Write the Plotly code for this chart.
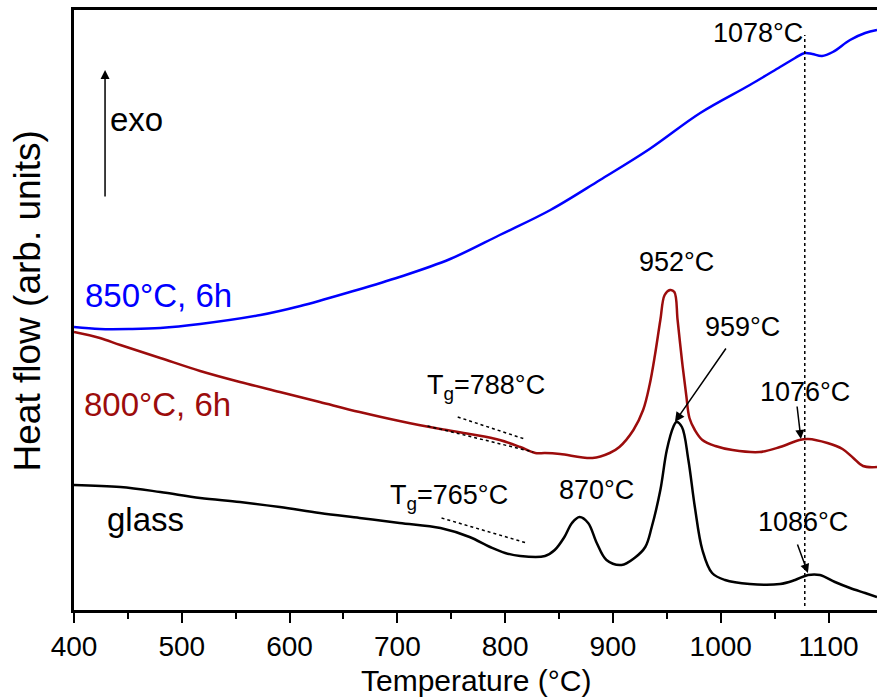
import plotly.graph_objects as go

# ---------------- data ----------------
# 850°C, 6h (blue)
t_850 = [400, 424, 452, 480, 517, 573, 610, 656, 702, 749, 795, 842, 888, 934,
         981, 1027, 1055, 1069, 1078, 1085, 1094, 1104, 1120, 1134, 1145]
hf_850 = [2.83, 2.81, 2.81, 2.82, 2.86, 2.95, 3.04, 3.18, 3.33, 3.51, 3.75, 4.00,
          4.30, 4.61, 4.97, 5.25, 5.43, 5.52, 5.57, 5.56, 5.54, 5.58, 5.70, 5.77, 5.80]

# 800°C, 6h (dark red)
t_800 = [400, 424, 443, 480, 517, 554, 591, 628, 665, 702, 740, 767, 795, 814, 828, 837,
         851, 881, 897, 906, 919, 928, 934, 939, 944, 948, 953, 957, 960, 964, 968, 971,
         976, 983, 995, 1011, 1036, 1055, 1073, 1081, 1099, 1113, 1123, 1132, 1145]
hf_800 = [2.78, 2.72, 2.65, 2.52, 2.39, 2.28, 2.18, 2.08, 1.98, 1.89, 1.81, 1.76, 1.70,
          1.63, 1.57, 1.57, 1.56, 1.52, 1.57, 1.63, 1.80, 2.00, 2.25, 2.55, 2.90, 3.15,
          3.20, 3.18, 2.90, 2.50, 2.15, 1.92, 1.80, 1.70, 1.64, 1.60, 1.58, 1.63, 1.70,
          1.71, 1.67, 1.61, 1.52, 1.44, 1.43]

# glass (black)
t_glass = [400, 443, 480, 517, 554, 591, 628, 665, 702, 740, 767, 786, 800, 814, 837, 846,
           855, 862, 869, 877, 885, 894, 908, 920, 930, 936, 944, 950, 956, 959, 964, 970,
           976, 983, 992, 1004, 1027, 1055, 1069, 1081, 1092, 1106, 1120, 1134, 1145]
hf_glass = [1.25, 1.23, 1.18, 1.12, 1.08, 1.03, 0.97, 0.92, 0.87, 0.82, 0.73, 0.63, 0.57,
            0.54, 0.54, 0.60, 0.73, 0.87, 0.93, 0.87, 0.67, 0.50, 0.45, 0.52, 0.63, 0.83,
            1.20, 1.60, 1.83, 1.88, 1.83, 1.50, 1.03, 0.60, 0.37, 0.30, 0.26, 0.26, 0.30,
            0.35, 0.35, 0.28, 0.22, 0.17, 0.13]

x_ticks = [400, 500, 600, 700, 800, 900, 1000, 1100]
x_tick_labels = ["400", "500", "600", "700", "800", "900", "1000", "1100"]

BLUE = "#0000ff"
RED = "#9c0c0c"
BLACK = "#000000"
FONT = "Liberation Sans, Arial, sans-serif"

fig = go.Figure()
for t, hf, c in [(t_850, hf_850, BLUE), (t_800, hf_800, RED), (t_glass, hf_glass, BLACK)]:
    fig.add_trace(go.Scatter(x=t, y=hf, mode="lines",
                             line=dict(color=c, width=2.5, shape="spline", smoothing=1.0),
                             showlegend=False, hoverinfo="skip"))

# dotted guide lines
dot = dict(color="black", width=1.5, dash="dot")
fig.add_shape(type="line", x0=1078, x1=1078, y0=0.04, y1=5.75, xref="x", yref="y", line=dot)
fig.add_shape(type="line", x0=756, y0=1.93, x1=818, y1=1.71, xref="x", yref="y", line=dot)
fig.add_shape(type="line", x0=728, y0=1.84, x1=826, y1=1.58, xref="x", yref="y", line=dot)
fig.add_shape(type="line", x0=741, y0=0.92, x1=820, y1=0.67, xref="x", yref="y", line=dot)

ann = []
def txt(x, y, s, size=27, color=BLACK, xanchor="center"):
    ann.append(dict(x=x, y=y, xref="x", yref="y", text=s, showarrow=False,
                    xanchor=xanchor, yanchor="middle",
                    font=dict(family=FONT, size=size, color=color)))

def arrow(x, y, ax, ay, head=2, size=1.2):
    ann.append(dict(x=x, y=y, ax=ax, ay=ay, xref="x", yref="y", axref="x", ayref="y",
                    text="", showarrow=True, arrowhead=head, arrowsize=size,
                    arrowwidth=1.5, arrowcolor="black"))

txt(1034.5, 5.77, "1078°C")
txt(959, 3.48, "952°C")
txt(1020, 2.83, "959°C")
txt(1078, 2.18, "1076°C")
txt(1076, 0.88, "1086°C")
txt(885, 1.20, "870°C")
txt(725.6, 2.23, "T<sub>g</sub>=788°C", xanchor="left")
txt(691.3, 1.13, "T<sub>g</sub>=765°C", xanchor="left")
txt(408.3, 3.15, "850°C, 6h", size=33, color=BLUE, xanchor="left")
txt(407.4, 2.06, "800°C, 6h", size=33, color=RED, xanchor="left")
txt(428.8, 0.91, "glass", size=33, xanchor="left")
txt(431.5, 4.91, "exo", size=33, xanchor="left")

arrow(957.5, 1.88, 1005.8, 2.63, head=2, size=1.3)
arrow(1074.4, 1.71, 1070.7, 2.05)
arrow(1080.9, 0.37, 1070.7, 0.67)
arrow(428.8, 5.40, 428.8, 4.12)

# axis titles
ann.append(dict(x=0.5, y=-0.118, xref="paper", yref="paper", text="Temperature (°C)",
                showarrow=False, xanchor="center", yanchor="middle",
                font=dict(family=FONT, size=30, color=BLACK)))
ann.append(dict(x=-0.058, y=0.515, xref="paper", yref="paper", text="Heat flow (arb. units)",
                showarrow=False, xanchor="center", yanchor="middle", textangle=-90,
                font=dict(family=FONT, size=37, color=BLACK)))

fig.update_layout(
    width=877, height=698,
    margin=dict(l=74, r=0, t=10, b=88),
    paper_bgcolor="white", plot_bgcolor="white",
    annotations=ann,
    font=dict(family=FONT, color=BLACK),
)
fig.update_xaxes(range=[400, 1145], tickmode="array", tickvals=x_ticks, ticktext=x_tick_labels,
                 showgrid=False, zeroline=False, showline=True, linecolor="black", linewidth=2.5,
                 mirror=True, ticks="outside", ticklen=10, tickwidth=2, tickcolor="black",
                 tickfont=dict(family=FONT, size=28, color=BLACK),
                 minor=dict(dtick=50, tick0=450, ticks="outside", ticklen=6, tickwidth=2,
                            tickcolor="black", showgrid=False))
fig.update_yaxes(range=[0, 6], showticklabels=False, ticks="", showgrid=False, zeroline=False,
                 showline=True, linecolor="black", linewidth=2.5)

fig.write_html("out.html")
